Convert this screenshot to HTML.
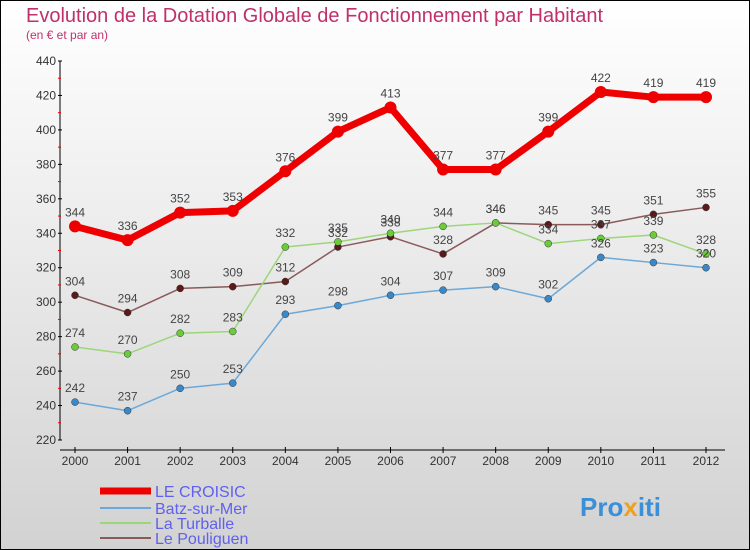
<!DOCTYPE html>
<html><head><meta charset="utf-8"><style>
body{margin:0}
svg{display:block;font-family:"Liberation Sans",sans-serif}
</style></head><body>
<svg id="c" width="750" height="550">
<defs><linearGradient id="bg" x1="0" y1="0" x2="0" y2="1"><stop offset="0" stop-color="#ffffff"/><stop offset="1" stop-color="#d2d2d2"/></linearGradient></defs>
<rect x="0.5" y="0.5" width="749" height="549" fill="url(#bg)" stroke="#000"/>
<text x="26" y="22" font-size="20" fill="#c0306a">Evolution de la Dotation Globale de Fonctionnement par Habitant</text>
<text x="26" y="39" font-size="12" fill="#c0306a">(en € et par an)</text>
<g id="axes"></g><g id="series"></g><g id="legend"></g>
<text x="580" y="516" font-size="26" font-weight="bold" fill="#3a8fd8">Pro<tspan fill="#f0a020">x</tspan>iti</text>
</svg>
<script>
const years=["2000","2001","2002","2003","2004","2005","2006","2007","2008","2009","2010","2011","2012"];
const yTicks=[220,240,260,280,300,320,340,360,380,400,420,440];
const croisic=[344,336,352,353,376,399,413,377,377,399,422,419,419];
const batz=[242,237,250,253,293,298,304,307,309,302,326,323,320];
const turballe=[274,270,282,283,332,335,340,344,346,334,337,339,328];
const pouliguen=[304,294,308,309,312,332,338,328,346,345,345,351,355];
const NS="http://www.w3.org/2000/svg";
const X=i=>75+i*(706-75)/12;
const Y=v=>440-(v-220)*(379/220);
function mk(t,a,p){const e=document.createElementNS(NS,t);for(const k in a)e.setAttribute(k,a[k]);p.appendChild(e);return e;}
const ax=document.getElementById('axes');
let e=mk('line',{x1:60,y1:61,x2:60,y2:440,stroke:'#000'},ax);


e=mk('line',{x1:60,y1:450,x2:725,y2:450,stroke:'#000'},ax);


yTicks.forEach((v,i)=>{
  mk('line',{x1:58,y1:Y(v),x2:62,y2:Y(v),stroke:'#000'},ax);
  if(i<yTicks.length-1)mk('line',{x1:58,y1:Y(v+10),x2:61,y2:Y(v+10),stroke:'#e00'},ax);
  const t=mk('text',{x:56,y:Y(v)+4,'font-size':12,'text-anchor':'end',fill:'#333'},ax);
  t.textContent=v;
  
  
});
years.forEach((y,i)=>{
  mk('line',{x1:X(i),y1:447,x2:X(i),y2:453,stroke:'#000'},ax);
  const t=mk('text',{x:X(i),y:465,'font-size':12,'text-anchor':'middle',fill:'#333'},ax);
  t.textContent=y;
  
  
});
const sg=document.getElementById('series');
const series=[
 {n:'Le Pouliguen',d:pouliguen,c:'#8a5a5a',m:'#5a1a1a',w:1.5,r:3.5,key:'le-pouliguen'},
 {n:'La Turballe',d:turballe,c:'#9cd67a',m:'#6acc3a',w:1.5,r:3.5,key:'la-turballe'},
 {n:'Batz-sur-Mer',d:batz,c:'#6ca8d8',m:'#3a88c8',w:1.5,r:3.5,key:'batz-sur-mer'},
 {n:'LE CROISIC',d:croisic,c:'#ee0000',m:'#ee0000',w:7,r:6,key:'le-croisic'}];
series.forEach(s=>{
  const g=mk('g',{},sg);
  
  
  const pl=mk('polyline',{points:s.d.map((v,i)=>X(i)+','+Y(v)).join(' '),fill:'none',stroke:s.c,'stroke-width':s.w,'stroke-linejoin':'round'},g);
  
  
  s.d.forEach((v,i)=>{
    const p=mk('circle',{cx:X(i),cy:Y(v),r:s.r,fill:s.m,stroke:'#333','stroke-width':s.w>2?0:0.5},g);
    
    
    const t=mk('text',{x:X(i),y:Y(v)-10,'font-size':12,'text-anchor':'middle',fill:'#444'},g);
    t.textContent=v;
    
    
  });
});
const lg=document.getElementById('legend');
[['LE CROISIC','#ee0000',7,491],['Batz-sur-Mer','#6ca8d8',2,508],['La Turballe','#9cd67a',2,523],['Le Pouliguen','#8a5a5a',2,538]].forEach(l=>{
  const g=mk('g',{},lg);
  
  
  mk('line',{x1:100,y1:l[3],x2:151,y2:l[3],stroke:l[1],'stroke-width':l[2]},g);
  const t=mk('text',{x:155,y:l[3]+6,'font-size':16,fill:'#6060ee'},g);
  t.textContent=l[0];
});
</script>
</body></html>
